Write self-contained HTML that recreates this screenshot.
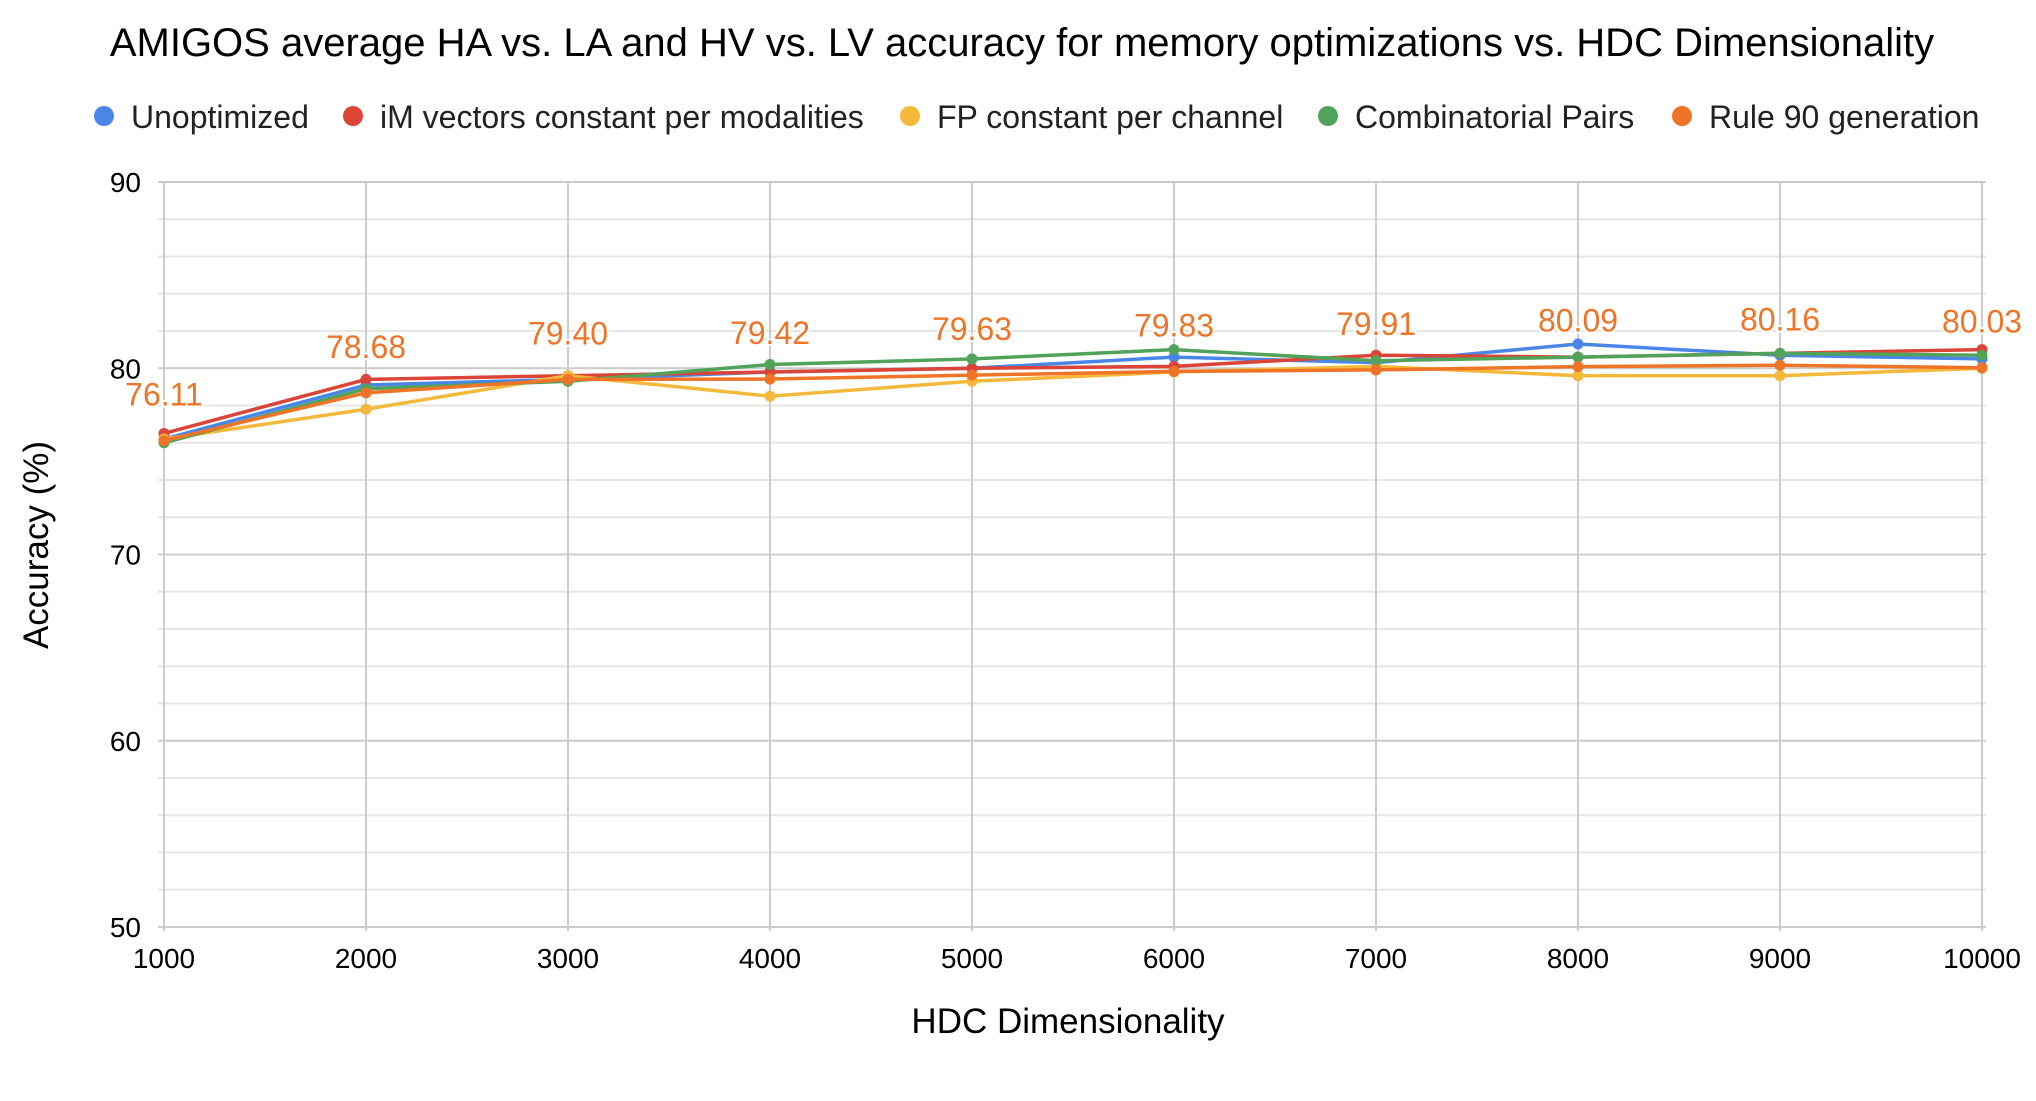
<!DOCTYPE html>
<html><head><meta charset="utf-8"><style>
body{margin:0;background:#fff;}
svg text{font-family:"Liberation Sans",Arial,sans-serif;}
</style></head><body>
<svg id="chart" width="2036" height="1096" viewBox="0 0 2036 1096">
<text x="1022" y="56" font-size="40" text-anchor="middle" fill="#000">AMIGOS average HA vs. LA and HV vs. LV accuracy for memory optimizations vs. HDC Dimensionality</text>
<g id="legend"></g>
<g id="grid"></g>
<g id="series"></g>
<g id="labels"></g>
<text x="1068" y="1033" font-size="35" text-anchor="middle" fill="#000">HDC Dimensionality</text>
<text transform="translate(48,545) rotate(-90)" font-size="35" text-anchor="middle" fill="#000">Accuracy (%)</text>
</svg>
<script>
const categories=[1000,2000,3000,4000,5000,6000,7000,8000,9000,10000];
const seriesNames=["Unoptimized","iM vectors constant per modalities","FP constant per channel","Combinatorial Pairs","Rule 90 generation"];
const unoptimized=[76.2,79.1,79.4,79.8,80.0,80.6,80.3,81.3,80.7,80.5];
const imConstant=[76.5,79.4,79.6,79.8,80.0,80.1,80.7,80.6,80.8,81.0];
const fpConstant=[76.2,77.8,79.6,78.5,79.3,79.8,80.1,79.6,79.6,80.0];
const combPairs=[76.0,78.9,79.3,80.2,80.5,81.0,80.4,80.6,80.8,80.7];
const rule90=[76.11,78.68,79.40,79.42,79.63,79.83,79.91,80.09,80.16,80.03];
const rule90Labels=["76.11","78.68","79.40","79.42","79.63","79.83","79.91","80.09","80.16","80.03"];
const yTicks=[50,60,70,80,90];
const colors=["#4a86e8","#db4437","#f4b93a","#52a35a","#f07427"];
const NS="http://www.w3.org/2000/svg";
const X0=164,X1=1982,Y0=927,Y1=182,YMIN=50,YMAX=90;
const xs=v=>X0+(v-1000)/9000*(X1-X0);
const ys=v=>Y0-(v-YMIN)/(YMAX-YMIN)*(Y0-Y1);
function mk(tag,attrs,parent){const e=document.createElementNS(NS,tag);for(const k in attrs)e.setAttribute(k,attrs[k]);parent.appendChild(e);return e;}
const grid=document.getElementById('grid');
for(let v=YMIN;v<=YMAX;v+=2){
  const major=v%10===0;
  const l=mk('line',{x1:X0-6,x2:X1+4,y1:ys(v),y2:ys(v),stroke:major?'#cccccc':'#e6e6e6','stroke-width':2},grid);
  
  
}
yTicks.forEach(v=>{
  const t=mk('text',{x:141,y:ys(v)+10,'font-size':28,'text-anchor':'end',fill:'#000'},grid);
  t.textContent=v;
  
  
});
categories.forEach(c=>{
  const l=mk('line',{x1:xs(c),x2:xs(c),y1:Y1,y2:Y0+4,stroke:'#cccccc','stroke-width':2},grid);
  
  
  const t=mk('text',{x:xs(c),y:968,'font-size':28,'text-anchor':'middle',fill:'#000'},grid);
  t.textContent=c;
  
  
});
const all=[unoptimized,imConstant,fpConstant,combPairs,rule90];
const sg=document.getElementById('series');
all.forEach((vals,i)=>{
  const g=mk('g',{},sg);
  
  
  const p=mk('polyline',{points:vals.map((v,j)=>xs(categories[j])+','+ys(v)).join(' '),fill:'none',stroke:colors[i],'stroke-width':3.5,'stroke-linejoin':'round'},g);
  
  
  vals.forEach((v,j)=>{
    const c=mk('circle',{cx:xs(categories[j]),cy:ys(v),r:5.5,fill:colors[i]},g);
    
    
  });
});
const lg=document.getElementById('labels');
rule90.forEach((v,j)=>{
  const t=mk('text',{x:xs(categories[j]),y:ys(v)-35,'font-size':32,'text-anchor':'middle',fill:'#f07427',stroke:'#fff','stroke-width':4,'paint-order':'stroke'},lg);
  t.textContent=rule90Labels[j];
  
  
});
const leg=document.getElementById('legend');
const legX=[104,353,910,1328,1682];
seriesNames.forEach((n,i)=>{
  const g=mk('g',{},leg);
  
  
  mk('circle',{cx:legX[i],cy:116,r:10,fill:colors[i]},g);
  const t=mk('text',{x:legX[i]+27,y:128,'font-size':32,fill:'#222'},g);
  t.textContent=n;
});
</script>
</body></html>
